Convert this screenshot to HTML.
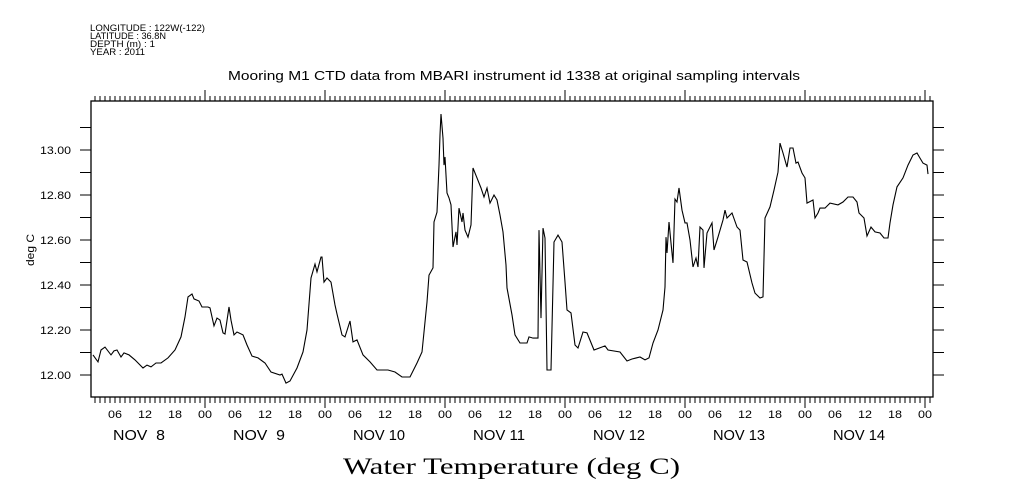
<!DOCTYPE html>
<html><head><meta charset="utf-8"><style>
html,body{margin:0;padding:0;background:#fff;width:1009px;height:504px;overflow:hidden}
svg{display:block}
text{font-family:"Liberation Sans",sans-serif;fill:#000}
</style></head><body>
<svg id="chart" width="1009" height="504" viewBox="0 0 1009 504" xmlns="http://www.w3.org/2000/svg">
<g font-size="9.5">
<text x="90" y="31" textLength="115" lengthAdjust="spacingAndGlyphs">LONGITUDE : 122W(-122)</text>
<text x="90" y="39" textLength="76" lengthAdjust="spacingAndGlyphs">LATITUDE : 36.8N</text>
<text x="90" y="47" textLength="65" lengthAdjust="spacingAndGlyphs">DEPTH (m) : 1</text>
<text x="90" y="60" textLength="55" lengthAdjust="spacingAndGlyphs" dy="-5">YEAR : 2011</text>
</g>
<text x="228" y="80" font-size="12.5" textLength="572" lengthAdjust="spacingAndGlyphs">Mooring M1 CTD data from MBARI instrument id 1338 at original sampling intervals</text>
<text transform="translate(34,250) rotate(-90)" font-size="11" text-anchor="middle" textLength="32" lengthAdjust="spacingAndGlyphs">deg C</text>
<text x="343" y="474" font-size="23" textLength="337" lengthAdjust="spacingAndGlyphs" style="font-family:'Liberation Serif',serif">Water Temperature (deg C)</text>
<rect x="91" y="101" width="842" height="296" fill="none" stroke="#000" stroke-width="1.3"/>
<g id="axes"></g>
<g id="series"></g>
</svg>
<script>
const hours=[1.6,2.6,3.2,4.0,5.2,5.8,6.4,7.2,7.8,8.8,10.0,11.6,12.4,13.2,14.2,15.2,16.6,18.0,19.2,20.0,20.6,21.4,21.8,22.8,23.4,24.6,25.0,25.8,26.4,27.0,27.6,28.0,28.8,29.2,29.8,30.4,31.6,32.4,33.4,34.6,36.0,37.2,39.0,39.4,40.2,41.0,42.4,43.6,44.4,45.2,46.0,46.4,47.2,47.4,47.8,48.4,49.2,50.0,50.4,51.4,52.0,53.0,53.6,54.4,55.6,57.0,58.4,60.6,62.0,63.4,65.0,66.4,67.4,68.4,68.8,69.6,69.8,70.4,70.8,71.0,71.2,71.6,71.8,72.0,72.4,72.8,73.2,73.6,74.2,74.4,74.8,75.4,75.6,76.0,76.6,77.2,77.6,78.4,79.2,79.8,80.4,81.0,81.8,82.4,83.0,83.6,84.2,84.4,85.4,86.0,87.0,88.4,88.8,89.6,90.6,90.8,91.2,91.6,92.0,92.4,93.2,93.8,94.6,95.4,96.0,96.4,97.2,98.0,98.6,99.6,100.4,101.8,104.0,104.6,107.0,108.4,109.4,111.0,112.0,112.8,113.6,114.6,115.6,116.0,116.2,116.4,116.8,117.2,117.6,118.0,118.4,118.8,119.4,120.0,120.4,121.0,121.6,122.2,122.6,123.0,123.6,123.8,124.4,125.4,125.8,126.6,127.6,128.0,128.4,129.4,130.4,131.0,131.6,132.4,133.4,134.0,135.0,135.6,136.0,137.0,137.8,138.6,139.0,139.6,140.4,141.0,141.6,142.2,142.6,143.4,144.0,144.4,145.6,146.0,146.6,147.0,148.0,149.0,150.6,151.6,152.6,153.6,154.4,154.8,155.8,156.4,157.2,158.0,159.0,159.8,160.6,161.0,161.6,162.4,163.6,164.6,165.6,166.4,167.0,167.6,168.4,168.6];
const temps=[12.089,12.058,12.111,12.124,12.089,12.107,12.111,12.08,12.098,12.089,12.067,12.031,12.044,12.036,12.053,12.053,12.076,12.111,12.169,12.258,12.347,12.36,12.338,12.329,12.302,12.302,12.298,12.218,12.253,12.244,12.187,12.182,12.302,12.244,12.178,12.191,12.178,12.133,12.084,12.076,12.053,12.013,12.0,12.004,11.964,11.973,12.031,12.102,12.2,12.431,12.493,12.458,12.524,12.524,12.413,12.431,12.413,12.311,12.271,12.178,12.169,12.24,12.147,12.156,12.089,12.058,12.022,12.022,12.013,11.991,11.991,12.053,12.102,12.324,12.444,12.476,12.68,12.724,12.933,13.067,13.16,13.053,12.933,12.969,12.809,12.787,12.756,12.569,12.636,12.578,12.742,12.68,12.72,12.644,12.613,12.667,12.92,12.876,12.831,12.791,12.831,12.764,12.8,12.778,12.711,12.636,12.489,12.387,12.267,12.178,12.142,12.142,12.169,12.164,12.164,12.644,12.253,12.653,12.609,12.022,12.022,12.591,12.622,12.591,12.413,12.289,12.276,12.133,12.12,12.191,12.187,12.111,12.129,12.111,12.102,12.062,12.071,12.08,12.067,12.076,12.142,12.2,12.289,12.391,12.613,12.542,12.68,12.587,12.498,12.782,12.769,12.831,12.733,12.676,12.676,12.6,12.48,12.52,12.48,12.658,12.644,12.476,12.631,12.676,12.556,12.613,12.689,12.733,12.698,12.72,12.658,12.644,12.511,12.502,12.409,12.364,12.342,12.347,12.698,12.747,12.822,12.902,13.031,12.987,12.924,13.009,13.009,12.942,12.947,12.898,12.876,12.764,12.778,12.698,12.72,12.742,12.742,12.764,12.756,12.769,12.791,12.791,12.769,12.72,12.698,12.618,12.658,12.636,12.631,12.609,12.609,12.676,12.756,12.836,12.876,12.933,12.978,12.987,12.964,12.942,12.933,12.893];
const yTicks=[12.0,12.2,12.4,12.6,12.8,13.0];
const yTickLabels=["12.00","12.20","12.40","12.60","12.80","13.00"];
const dayLabels=["NOV  8","NOV  9","NOV 10","NOV 11","NOV 12","NOV 13","NOV 14"];
const hourLabels=["00","06","12","18"];

const NS="http://www.w3.org/2000/svg";
const X0=91,X1=933,Y0=101,Y1=397;
const H0=1.2,H1=169.6,V0=11.902,V1=13.218;
function xs(h){return X0+(h-H0)/(H1-H0)*(X1-X0);}
function ys(v){return Y1-(v-V0)/(V1-V0)*(Y1-Y0);}
function mk(tag,attrs,parent){const e=document.createElementNS(NS,tag);for(const k in attrs)e.setAttribute(k,attrs[k]);parent.appendChild(e);return e;}
const axes=document.getElementById('axes');
let d="";
for(let i=0;i<=12;i++){const v=11.9+i*0.1;if(v<V0||v>V1)continue;const y=ys(v).toFixed(1);d+=`M${X0-11} ${y}H${X0}M${X1} ${y}H${X1+11}`;}
for(let h=Math.ceil(H0);h<=H1;h++){const x=xs(h).toFixed(1);const day=h%24===0;const len=day?11:5;d+=`M${x} ${Y0}V${Y0-len}M${x} ${Y1}V${Y1+(day?11:6)}`;}
const tk=mk('path',{d:d,stroke:'#000','stroke-width':1,fill:'none'},axes);


yTicks.forEach((v,i)=>{const t=mk('text',{x:40,y:ys(v)+4,'font-size':11,textLength:31,lengthAdjust:'spacingAndGlyphs'},axes);t.textContent=yTickLabels[i];

});
for(let h=6;h<=H1;h+=6){const t=mk('text',{x:xs(h)-7,y:418,'font-size':11,textLength:14,lengthAdjust:'spacingAndGlyphs'},axes);t.textContent=hourLabels[(h/6)%4];

}
dayLabels.forEach((s,i)=>{const t=mk('text',{x:xs(i*24+12)-32,y:440,'font-size':15,textLength:52,lengthAdjust:'spacingAndGlyphs'},axes);t.textContent=s;t.style.whiteSpace='pre';

});
const pts=hours.map((h,i)=>xs(h).toFixed(1)+","+ys(temps[i]).toFixed(1)).join(" ");
const line=mk('polyline',{points:pts,fill:'none',stroke:'#000','stroke-width':1.1},document.getElementById('series'));


</script>
</body></html>
